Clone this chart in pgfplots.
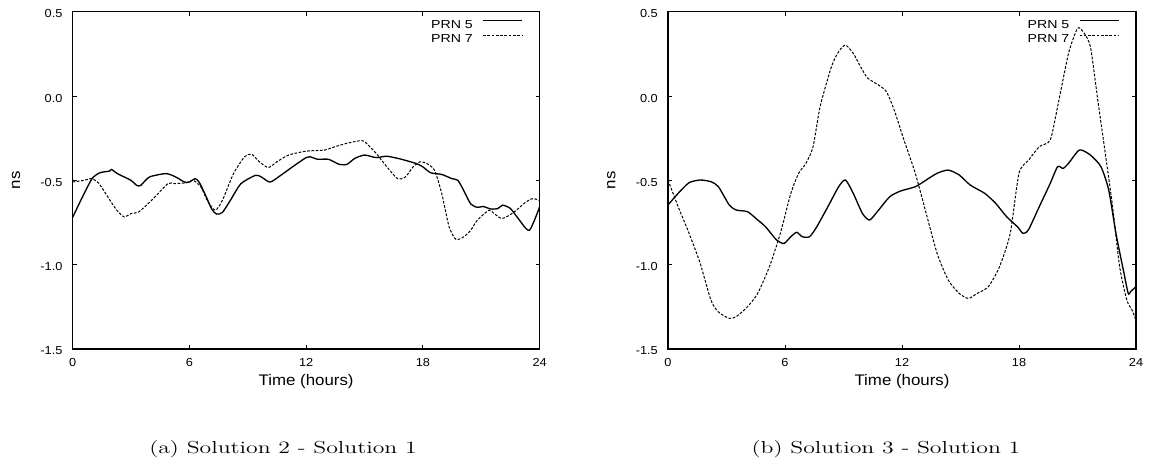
\documentclass[border=0pt]{standalone}
\usepackage{graphicx}
\usepackage{fontspec}
\usepackage{pgfplots}
\pgfplotsset{compat=1.18}
\newfontfamily\helv{Liberation Sans}[FakeStretch=1.1]
\newfontfamily\helvwide{Liberation Sans}[FakeStretch=1.22]
\newcommand\tickfont{\helv\fontsize{8.7}{10}\selectfont}
\newcommand\legfont{\helvwide\fontsize{8.7}{10}\selectfont}
\newcommand\labfont{\helv\fontsize{11.5}{13}\selectfont}

% left panel: Solution 2 - Solution 1
\pgfplotstableread{
t v
0 -0.72
0.5 -0.60
1.0 -0.49
1.4 -0.455
1.9 -0.445
2.0 -0.435
2.3 -0.46
3.0 -0.50
3.3 -0.53
3.5 -0.53
3.95 -0.48
4.8 -0.46
5.3 -0.48
5.75 -0.51
6.0 -0.51
6.3 -0.49
6.5 -0.51
6.8 -0.58
7.15 -0.67
7.4 -0.70
7.7 -0.69
8.1 -0.62
8.65 -0.52
9.4 -0.47
9.7 -0.48
10.15 -0.51
10.7 -0.47
11.3 -0.42
12.0 -0.365
12.2 -0.36
12.6 -0.375
13.15 -0.375
13.7 -0.405
14.1 -0.405
14.5 -0.37
15.0 -0.35
15.6 -0.365
16.15 -0.357
16.9 -0.375
17.65 -0.40
18.0 -0.42
18.4 -0.455
18.97 -0.465
19.5 -0.49
19.8 -0.50
20.1 -0.56
20.46 -0.64
20.8 -0.66
21.1 -0.655
21.5 -0.67
21.86 -0.667
22.1 -0.647
22.5 -0.667
22.9 -0.726
23.47 -0.796
24 -0.657
}\leftfive

\pgfplotstableread{
t v
0 -0.51
0.58 -0.50
0.96 -0.49
1.33 -0.515
1.9 -0.614
2.27 -0.677
2.65 -0.717
3.0 -0.697
3.4 -0.687
4.15 -0.608
4.9 -0.519
5.27 -0.519
5.83 -0.515
6.2 -0.50
6.6 -0.54
6.96 -0.628
7.34 -0.677
7.7 -0.618
8.27 -0.46
8.84 -0.36
9.2 -0.345
9.6 -0.39
10.06 -0.424
10.5 -0.39
11.1 -0.35
12.0 -0.327
12.96 -0.32
13.5 -0.30
14.1 -0.28
14.75 -0.265
15.0 -0.27
15.6 -0.34
16.15 -0.42
16.7 -0.49
17.1 -0.48
17.5 -0.42
17.85 -0.39
18.2 -0.40
18.6 -0.44
18.97 -0.578
19.35 -0.776
19.7 -0.85
20.1 -0.835
20.46 -0.796
20.8 -0.736
21.4 -0.677
21.66 -0.697
22.03 -0.726
22.3 -0.716
22.7 -0.687
23.3 -0.628
23.66 -0.608
24 -0.62
}\leftseven

% right panel: Solution 3 - Solution 1
\pgfplotstableread{
t v
0 -0.646
0.52 -0.577
1.08 -0.514
1.65 -0.498
2.2 -0.508
2.58 -0.537
3.14 -0.646
3.5 -0.676
4.08 -0.686
4.6 -0.735
5.0 -0.775
5.57 -0.854
5.95 -0.874
6.3 -0.834
6.6 -0.808
6.88 -0.834
7.26 -0.834
7.63 -0.775
8.2 -0.656
8.75 -0.538
9.1 -0.498
9.5 -0.577
9.97 -0.696
10.34 -0.735
10.8 -0.676
11.37 -0.597
11.93 -0.563
12.68 -0.538
13.24 -0.498
13.8 -0.458
14.37 -0.439
14.93 -0.468
15.5 -0.528
16.24 -0.577
16.8 -0.636
17.36 -0.715
17.92 -0.775
18.2 -0.814
18.48 -0.794
19.04 -0.656
19.6 -0.518
19.98 -0.419
20.26 -0.429
20.54 -0.399
21.1 -0.32
21.66 -0.35
22.2 -0.419
22.6 -0.557
22.97 -0.814
23.35 -1.032
23.6 -1.17
23.72 -1.16
24 -1.13
}\rightfive

\pgfplotstableread{
t v
0 -0.498
0.52 -0.656
1.08 -0.814
1.65 -0.992
2.2 -1.21
2.58 -1.28
3.14 -1.318
3.5 -1.308
4.08 -1.249
4.6 -1.17
5.2 -1.012
5.76 -0.814
6.3 -0.577
6.7 -0.458
7.07 -0.40
7.44 -0.30
7.8 -0.063
8.38 0.174
8.75 0.263
9.1 0.302
9.5 0.253
9.97 0.154
10.25 0.105
10.8 0.065
11.2 0.026
11.6 -0.083
12.1 -0.261
12.68 -0.458
13.24 -0.696
13.8 -0.933
14.37 -1.091
14.93 -1.17
15.4 -1.20
15.86 -1.17
16.43 -1.13
17.0 -1.012
17.55 -0.814
18.0 -0.458
18.5 -0.379
19.04 -0.30
19.6 -0.261
19.98 -0.063
20.54 0.253
21.0 0.401
21.29 0.381
21.66 0.292
22.04 -0.024
22.4 -0.32
22.8 -0.656
23.16 -1.012
23.53 -1.21
23.8 -1.27
24 -1.33
}\rightseven

\pgfplotsset{
  panel/.style={
    scale only axis,
    height=252.975pt,
    xmin=0, xmax=24, ymin=-1.5, ymax=0.5,
    axis line style={line width=0.8pt},
    tick style={black, line width=0.6pt},
    major tick length=3pt,
    tick align=inside,
    xtick={0,6,12,18,24},
    xticklabels={0,6,12,18,24},
    ytick={-1.5,-1,-0.5,0,0.5},
    yticklabels={-1.5,-1.0,-0.5,0.0,0.5},
    ticklabel style={font=\tickfont},
    xticklabel style={anchor=base, yshift=-13.3pt},
    yticklabel style={anchor=east, xshift=-4.1pt, yshift=-1.5pt},
    xlabel={Time (hours)},
    label style={font=\labfont},
    xlabel style={at={(axis description cs:0.5,-0.1088)}, anchor=base},
    legend plot pos=right,
    legend cell align=right,
    legend style={draw=none, fill=none, at={(1,1)}, anchor=north east,
      xshift=-12.6pt, yshift=-6pt, inner sep=0pt, outer sep=0pt,
      row sep=2.9pt, column sep=7.2pt, font=\legfont,
      nodes={inner sep=0pt, text height=6.3pt, text depth=1.5pt}},
    legend image code/.code={\draw[##1] (0pt,3.1pt) -- (29.25pt,3.1pt);},
  },
  s5/.style={black, line width=1pt, smooth, tension=0.4},
  s7/.style={black, line width=0.75pt, dash pattern=on 2pt off 1.2pt, smooth, tension=0.4},
}

\begin{document}
\begin{tikzpicture}
\useasboundingbox (0pt,0pt) rectangle (863.25pt,-351pt);

\begin{axis}[panel, width=350.25pt, at={(54.45pt,-261.75pt)}, anchor=south west]
\addplot[s5] table[x=t, y=v] {\leftfive};
\addlegendentry{PRN 5}
\addplot[s7] table[x=t, y=v] {\leftseven};
\addlegendentry{PRN 7}
\end{axis}

\begin{axis}[panel, width=351pt, at={(501pt,-261.75pt)}, anchor=south west]
\addplot[s5] table[x=t, y=v] {\rightfive};
\addlegendentry{PRN 5}
\addplot[s7] table[x=t, y=v] {\rightseven};
\addlegendentry{PRN 7}
\end{axis}

% y axis labels
\node[rotate=90, anchor=base, inner sep=0pt, font=\labfont] at (15pt,-135.3pt) {ns};
\node[rotate=90, anchor=base, inner sep=0pt, font=\labfont] at (461.5pt,-135.3pt) {ns};

\node[anchor=base, inner sep=0pt] at (212.25pt,-339.75pt)
  {\fontsize{13}{15}\selectfont\scalebox{1.37}[1]{(a) Solution 2 - Solution 1}};
\node[anchor=base, inner sep=0pt] at (664.5pt,-339.75pt)
  {\fontsize{13}{15}\selectfont\scalebox{1.37}[1]{(b) Solution 3 - Solution 1}};
\end{tikzpicture}
\end{document}
